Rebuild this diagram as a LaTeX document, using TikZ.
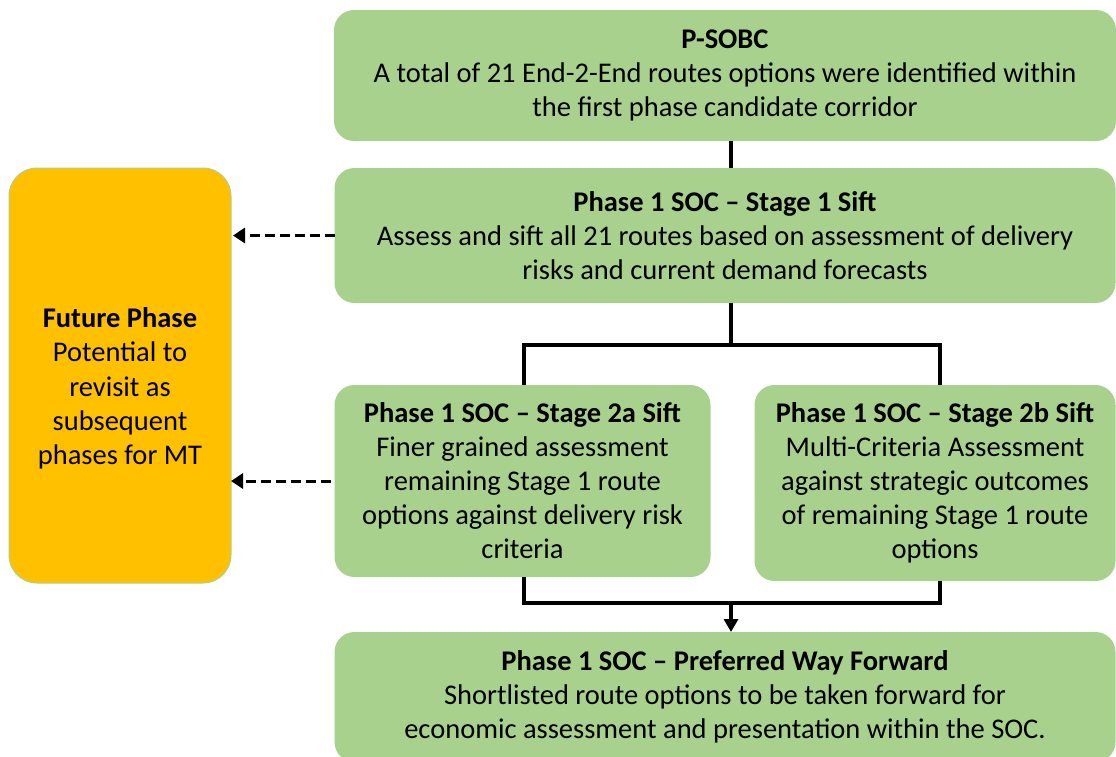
\documentclass[tikz,border=0pt]{standalone}
\usepackage{fontspec}
\setmainfont{Carlito}
\usetikzlibrary{arrows.meta,positioning}
\definecolor{boxgreen}{HTML}{A9D18E}
\definecolor{futureorange}{HTML}{FFC000}

\begin{document}
\begin{tikzpicture}[x=1pt,y=-1pt,
  box/.style={fill=boxgreen,rounded corners=20pt,inner sep=0pt,outer sep=0pt,
    align=center,font=\fontsize{28.5}{34}\selectfont},
  futurebox/.style={draw=boxgreen,line width=1pt,fill=futureorange,rounded corners=28pt,
    inner sep=0pt,outer sep=0pt},
  futuretext/.style={align=center,inner sep=0pt,font=\fontsize{28.5}{34.3}\selectfont},
  line/.style={line width=4pt},
  arr/.style={line width=4pt,-{Triangle[length=13pt,width=14pt]}},
  dasharr/.style={line width=3pt,dash pattern=on 10pt off 5pt,-{Triangle[length=12pt,width=15pt]}}]
\clip (0,0) rectangle (1116,756);
\node[box,minimum width=782pt,minimum height=131pt](psobc) at (725,75.5)
  {\textbf{P-SOBC}\\A total of 21 End-2-End routes options were identified within\\the first phase candidate corridor};
\node[box,minimum width=781pt,minimum height=135pt,below=27pt of psobc](sift1)
  {\textbf{Phase 1 SOC – Stage 1 Sift}\\Assess and sift all 21 routes based on assessment of delivery\\risks and current demand forecasts};
\node[box,minimum width=376pt,minimum height=192pt,below=82pt of sift1.south west,anchor=north west](sift2a)
  {\textbf{Phase 1 SOC – Stage 2a Sift}\\Finer grained assessment\\remaining Stage 1 route\\options against delivery risk\\criteria};
\node[box,minimum width=361pt,minimum height=196pt,right=44pt of sift2a.north east,anchor=north west](sift2b)
  {\textbf{Phase 1 SOC – Stage 2b Sift}\\Multi-Criteria Assessment\\against strategic outcomes\\of remaining Stage 1 route\\options};
\node[box,minimum width=781pt,minimum height=130pt,below=55pt of sift2a.south west,anchor=north west](pref)
  {\textbf{Phase 1 SOC – Preferred Way Forward}\\Shortlisted route options to be taken forward for\\economic assessment and presentation within the SOC.};
\node[futurebox,minimum width=222pt,minimum height=415pt](future) at (120,375.5){};
\node[futuretext](futurelabel) at ([yshift=-13pt]future.center)
  {\textbf{Future Phase}\\Potential to\\revisit as\\subsequent\\phases for MT};

\coordinate (split) at (731,345);
\coordinate (merge) at (731,603);
\draw[line]([xshift=6pt]psobc.south)--([xshift=6pt]sift1.north);
\draw[line]([xshift=6pt]sift1.south)--(split);
\draw[line](split)-|([xshift=1pt]sift2a.north);
\draw[line](split)-|([xshift=5pt]sift2b.north);
\draw[line]([xshift=1pt]sift2a.south)|-(merge);
\draw[line]([xshift=5pt]sift2b.south)|-(merge);
\draw[arr](merge)--(merge|-pref.north);
\draw[dasharr](sift1.west)--([xshift=2pt]future.east|-sift1.west);
\draw[dasharr]([xshift=-4pt]sift2a.west)--(future.east|-sift2a.west);
\end{tikzpicture}
\end{document}
